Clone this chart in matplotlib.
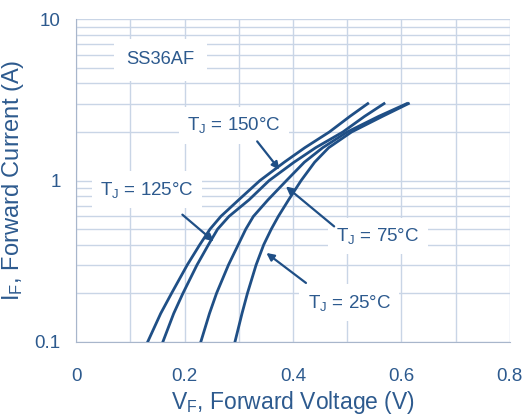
import numpy as np
import matplotlib
matplotlib.use("Agg")
import matplotlib.pyplot as plt

plt.rcParams['font.family'] = ['Liberation Sans', 'DejaVu Sans']
plt.rcParams['mathtext.fontset'] = 'custom'
plt.rcParams['mathtext.rm'] = 'Liberation Sans'

# datos (VF en V, IF en A)
i_f = [0.1, 0.15, 0.2, 0.3, 0.4, 0.5, 0.6, 0.76, 1.0, 1.3, 1.6, 2.0, 2.5, 3.0]
vf_150 = [0.132, 0.156, 0.176, 0.205, 0.228, 0.247, 0.267, 0.300, 0.339, 0.384, 0.422, 0.467, 0.505, 0.538]
vf_125 = [0.160, 0.180, 0.197, 0.223, 0.244, 0.261, 0.282, 0.319, 0.356, 0.402, 0.442, 0.492, 0.532, 0.568]
vf_75 = [0.230, 0.246, 0.259, 0.281, 0.299, 0.313, 0.327, 0.354, 0.388, 0.421, 0.455, 0.500, 0.558, 0.610]
vf_25 = [0.293, 0.306, 0.316, 0.332, 0.346, 0.360, 0.373, 0.392, 0.415, 0.440, 0.466, 0.508, 0.565, 0.613]

etiquetas = ['150', '125', '75', '25']
# posicion del texto, cola y punta de la flecha para cada curva
pos_texto = [(0.291, 2.2), (0.131, 0.88), (0.557, 0.455), (0.504, 0.175)]
cola = [(0.334, 1.75), (0.196, 0.615), (0.476, 0.52), (0.424, 0.232)]
punta = [(0.375, 1.17), (0.254, 0.42), (0.387, 0.92), (0.351, 0.356)]

color_txt = '#2d5a8e'
color_lin = '#1f4f86'
color_grid = '#c9d5e6'

fig = plt.figure(figsize=(5.25, 4.19), dpi=100)
ax = fig.add_axes([0.145, 0.184, 0.826, 0.770])

for vf in [vf_150, vf_125, vf_75, vf_25]:
    ax.plot(vf, i_f, color=color_lin, linewidth=2.0, zorder=4)

ax.set_yscale('log')
ax.set_xlim(0, 0.8)
ax.set_ylim(0.1, 10)
ax.set_xticks([0, 0.2, 0.4, 0.6, 0.8])
ax.set_xticklabels(['0', '0.2', '0.4', '0.6', '0.8'])
ax.set_xticks(np.arange(0.1, 0.8, 0.2), minor=True)
ax.set_yticks([0.1, 1, 10])
ax.set_yticklabels(['0.1', '1', '10'])
ax.yaxis.set_minor_formatter(matplotlib.ticker.NullFormatter())

ax.grid(True, which='both', color=color_grid, linewidth=1.0, zorder=0)
ax.set_axisbelow(True)
ax.tick_params(which='both', length=0, labelsize=13.5, labelcolor=color_txt)
ax.tick_params(axis='x', pad=19)
ax.tick_params(axis='y', pad=11)

for lado in ['top', 'right']:
    ax.spines[lado].set_visible(False)
for lado in ['left', 'bottom']:
    ax.spines[lado].set_color('#a8b6cb')

ax.set_xlabel(r'$\mathregular{V_F}$, Forward Voltage (V)', fontsize=16.5, color=color_txt, labelpad=3)
ax.set_ylabel(r'$\mathregular{I_F}$, Forward Current (A)', fontsize=17, color=color_txt, labelpad=6)

caja = dict(facecolor='white', edgecolor='none', pad=6)
ax.text(0.156, 5.6, 'SS36AF', fontsize=13.2, color=color_txt, ha='center', va='center',
        bbox=dict(facecolor='white', edgecolor='none', pad=9), zorder=3)

for et, (tx, ty), (px, py), (cx, cy) in zip(etiquetas, pos_texto, punta, cola):
    ax.text(tx, ty, r'$\mathregular{T_J}$ = ' + et + '°C', fontsize=13.5, color=color_txt,
            ha='center', va='center', bbox=caja, zorder=3)
    ax.annotate('', xy=(px, py), xytext=(cx, cy),
                arrowprops=dict(arrowstyle='-|>', color=color_lin, lw=1.6,
                                mutation_scale=11, shrinkA=0, shrinkB=0), zorder=5)

fig.savefig('out.png', dpi=100)
